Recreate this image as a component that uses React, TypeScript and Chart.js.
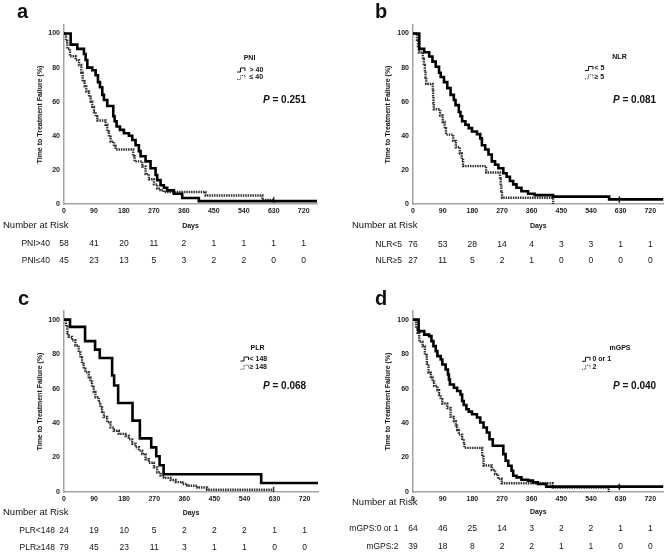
import React, { useEffect, useRef } from "react";
import { Chart, registerables } from "chart.js";

Chart.register(...registerables);

type Pt = [number, number];

const FONT = '"Liberation Sans", Arial, sans-serif';

const dayTicks = [0, 90, 180, 270, 360, 450, 540, 630, 720];
const pctTicks = [0, 20, 40, 60, 80, 100];

// ---- a: PNI ----
const pniHigh: Pt[] = [
  [0, 100], [20, 93.5], [40, 91], [60, 88], [65, 84.5], [70, 80], [85, 78.5], [95, 75.5],
  [102, 71.5], [108, 68.5], [115, 64], [120, 61], [130, 57.5], [148, 51.5], [152, 48.5],
  [158, 45.5], [168, 43.5], [180, 41.5], [195, 40], [205, 37.5], [215, 34.5], [225, 31],
  [230, 28], [245, 25], [260, 21], [275, 17], [280, 14], [290, 11], [300, 9.5], [310, 8],
  [330, 6], [355, 3.5], [405, 1.7], [760, 1.7],
];
const pniLow: Pt[] = [
  [0, 100], [6, 95.6], [10, 91.1], [18, 86.7], [35, 84.4], [45, 81.5], [52, 77], [56, 72],
  [62, 69], [67, 66], [75, 63], [80, 60], [85, 57], [90, 54], [95, 51.5], [100, 49],
  [125, 46.5], [130, 42.5], [135, 39.5], [140, 36.5], [150, 34], [155, 32], [208, 28],
  [212, 25], [235, 22], [245, 17.5], [255, 14.5], [270, 11.5], [280, 9], [290, 8],
  [300, 7], [425, 5], [596, 2.4], [630, 2.4],
];
const pniHighCensor: Pt[] = [];
const pniLowCensor: Pt[] = [[630, 2.4]];
const pniHighRisk = [58, 41, 20, 11, 2, 1, 1, 1, 1];
const pniLowRisk = [45, 23, 13, 5, 3, 2, 2, 0, 0];

// ---- b: NLR ----
const nlrLow: Pt[] = [
  [0, 100], [19, 91], [34, 89], [49, 86.5], [59, 83.5], [69, 80.5], [79, 77], [84, 74.5],
  [94, 71.5], [104, 68], [114, 64], [124, 61], [129, 58], [139, 54], [144, 51.5],
  [149, 48.5], [159, 46.5], [169, 44.5], [179, 42.5], [194, 41], [204, 38.5], [209, 34.5],
  [219, 32], [229, 29], [239, 25], [249, 23], [259, 21], [274, 18], [284, 16],
  [294, 13.5], [304, 11.5], [314, 9.5], [329, 7.5], [349, 6], [369, 5.2], [425, 4.3],
  [595, 2.7], [760, 2.7],
];
const nlrHigh: Pt[] = [
  [0, 100], [12, 96.3], [15, 92.6], [18, 88.9], [30, 85.2], [33, 81.5], [36, 77.8],
  [38, 74.1], [40, 70.4], [60, 66.7], [61, 63], [62, 59.3], [63, 55.6], [82, 51.9],
  [90, 48.1], [96, 44.4], [100, 40.7], [122, 37], [130, 33.3], [142, 29.6], [148, 25.9],
  [152, 22.2], [222, 18.5], [264, 14.8], [266, 11.1], [268, 7.4], [270, 3.7], [425, 0],
];
const nlrLowCensor: Pt[] = [[626, 2.7]];
const nlrHighCensor: Pt[] = [];
const nlrLowRisk = [76, 53, 28, 14, 4, 3, 3, 1, 1];
const nlrHighRisk = [27, 11, 5, 2, 1, 0, 0, 0, 0];

// ---- c: PLR ----
const plrLow: Pt[] = [
  [0, 100], [18, 95.8], [63, 87.5], [93, 82.6], [107, 77.7], [144, 67.6], [150, 61.8],
  [162, 51.6], [205, 41.4], [227, 31.1], [261, 25.9], [276, 20.7], [286, 15.5],
  [298, 10.3], [590, 5.2], [760, 5.2],
];
const plrHigh: Pt[] = [
  [0, 100], [6, 96], [10, 92], [14, 90], [24, 88], [34, 85], [44, 81], [49, 78],
  [54, 74.5], [59, 71.5], [64, 69.5], [74, 66.5], [79, 64], [84, 61], [89, 58], [94, 55],
  [104, 52], [109, 49], [114, 46.5], [119, 43.5], [129, 40.5], [139, 37.5], [149, 35.5],
  [164, 33.7], [184, 32.5], [194, 30.5], [204, 28], [214, 26], [224, 24], [234, 22],
  [244, 19], [254, 17], [269, 14.3], [279, 11.4], [289, 9.5], [299, 8.2], [319, 7],
  [334, 5.7], [354, 4.6], [369, 3.6], [399, 2.6], [428, 1.3], [627, 1.3],
];
const plrLowCensor: Pt[] = [];
const plrHighCensor: Pt[] = [[627, 1.3]];
const plrLowRisk = [24, 19, 10, 5, 2, 2, 2, 1, 1];
const plrHighRisk = [79, 45, 23, 11, 3, 1, 1, 0, 0];

// ---- d: mGPS ----
const gpsLow: Pt[] = [
  [0, 100], [17, 93.3], [34, 91.3], [49, 90.4], [56, 87.5], [62, 84.6], [69, 81.7],
  [74, 78.8], [84, 76.9], [89, 74], [99, 71.1], [106, 68.2], [109, 65.3], [112, 62.4],
  [124, 60.5], [134, 58.6], [144, 56.6], [149, 52.8], [154, 50.5], [162, 48], [169, 46.6],
  [179, 45.1], [194, 43.2], [204, 40.3], [214, 37.4], [224, 34.5], [232, 30.6],
  [242, 26.8], [274, 22], [281, 18.1], [289, 15.2], [299, 12.3], [304, 9.4], [314, 8.5],
  [329, 7.1], [349, 6.6], [364, 5.6], [379, 4.6], [404, 3.1], [760, 3.1],
];
const gpsHigh: Pt[] = [
  [0, 100], [9, 94.9], [14, 92.3], [19, 87.2], [29, 84.6], [36, 79.5], [42, 74.4],
  [47, 69.2], [54, 66.7], [59, 64.1], [64, 61.5], [74, 59], [79, 56.4], [84, 53.8],
  [89, 51.3], [104, 48.7], [114, 43.6], [124, 41], [130, 38.5], [134, 35.9], [139, 33.3],
  [149, 30.8], [154, 28.2], [156, 25.6], [210, 20.5], [214, 15.4], [239, 12.8],
  [249, 10.3], [258, 7.7], [269, 5.1], [424, 2.6], [594, 0],
];
const gpsLowCensor: Pt[] = [[626, 3.1]];
const gpsHighCensor: Pt[] = [];
const gpsLowRisk = [64, 46, 25, 14, 3, 2, 2, 1, 1];
const gpsHighRisk = [39, 18, 8, 2, 2, 1, 1, 0, 0];

interface PanelSpec {
  letter: string;
  factor: string;
  groups: [string, string];
  riskLabels: [string, string];
  risk: [number[], number[]];
  curves: [Pt[], Pt[]];
  censors: [Pt[], Pt[]];
  p: string;
}

interface Frame {
  left: number; top: number; width: number; height: number;
  area: { l: number; r: number; t: number; b: number };
  letter: [number, number];
  legendTitle: [number, number];
  iconX: number; labelX: number;
  legendRows: [number, number];
  pPos: [number, number];
  yTitleX: number;
  daysY: number;
  nar: [number, number];
  riskRight: number;
  riskRows: [number, number];
}

const panels: PanelSpec[] = [
  {
    letter: "a", factor: "PNI", groups: ["> 40", "\u2264 40"],
    riskLabels: ["PNI>40", "PNI\u226440"], risk: [pniHighRisk, pniLowRisk],
    curves: [pniHigh, pniLow], censors: [pniHighCensor, pniLowCensor], p: "0.251",
  },
  {
    letter: "b", factor: "NLR", groups: ["< 5", "\u2265 5"],
    riskLabels: ["NLR<5", "NLR\u22655"], risk: [nlrLowRisk, nlrHighRisk],
    curves: [nlrLow, nlrHigh], censors: [nlrLowCensor, nlrHighCensor], p: "0.081",
  },
  {
    letter: "c", factor: "PLR", groups: ["< 148", "\u2265 148"],
    riskLabels: ["PLR<148", "PLR\u2265148"], risk: [plrLowRisk, plrHighRisk],
    curves: [plrLow, plrHigh], censors: [plrLowCensor, plrHighCensor], p: "0.068",
  },
  {
    letter: "d", factor: "mGPS", groups: ["0 or 1", "2"],
    riskLabels: ["mGPS:0 or 1", "mGPS:2"], risk: [gpsLowRisk, gpsHighRisk],
    curves: [gpsLow, gpsHigh], censors: [gpsLowCensor, gpsHighCensor], p: "0.040",
  },
];

const frames: Frame[] = [
  {
    left: 0, top: 0, width: 335, height: 277, area: { l: 64, r: 317, t: 25, b: 204 },
    letter: [17, 18], legendTitle: [249.5, 58.3], iconX: 237, labelX: 249.5,
    legendRows: [70, 77.5], pPos: [263, 100], yTitleX: 40, daysY: 226, nar: [3, 225],
    riskRight: 50, riskRows: [243.5, 261],
  },
  {
    left: 335, top: 0, width: 334, height: 277, area: { l: 78, r: 332, t: 25, b: 204 },
    letter: [40, 18], legendTitle: [284.5, 57], iconX: 250, labelX: 259.5,
    legendRows: [68.5, 76.7], pPos: [278, 100], yTitleX: 53, daysY: 226, nar: [17, 225],
    riskRight: 67, riskRows: [245, 261],
  },
  {
    left: 0, top: 277, width: 335, height: 277, area: { l: 64, r: 318, t: 34, b: 215 },
    letter: [18, 28], legendTitle: [257.5, 71.3], iconX: 240.5, labelX: 249.5,
    legendRows: [82, 90.3], pPos: [263, 109.7], yTitleX: 40, daysY: 236, nar: [3, 235],
    riskRight: 55, riskRows: [254, 271],
  },
  {
    left: 335, top: 277, width: 334, height: 277, area: { l: 78, r: 332, t: 34, b: 215 },
    letter: [40, 28], legendTitle: [285, 71.3], iconX: 247, labelX: 257.5,
    legendRows: [82.3, 90.3], pPos: [278, 109.7], yTitleX: 53, daysY: 235, nar: [17, 225],
    riskRight: 63.5, riskRows: [252, 270],
  },
];

const Y_AXIS_W = 30;
const X_AXIS_H = 20;
const AXIS_COLOR = "#a3a3a3";
const TEXT = "#111";

const toXY = (pts: Pt[]) => pts.map(([x, y]) => ({ x, y }));

function drawStepIcon(ctx: CanvasRenderingContext2D, x: number, y: number, dotted: boolean) {
  ctx.save();
  ctx.beginPath();
  ctx.moveTo(x, y + 2);
  ctx.lineTo(x + 3.5, y + 2);
  ctx.lineTo(x + 3.5, y - 2);
  ctx.lineTo(x + 8, y - 2);
  ctx.lineTo(x + 8, y + 1);
  ctx.lineWidth = 1;
  ctx.strokeStyle = dotted ? "#444" : "#111";
  if (dotted) ctx.setLineDash([1, 0.8]);
  ctx.stroke();
  ctx.restore();
}

function KMPanel({ spec, frame }: { spec: PanelSpec; frame: Frame }) {
  const ref = useRef<HTMLCanvasElement | null>(null);

  useEffect(() => {
    const canvas = ref.current;
    if (!canvas) return;
    const f = frame;

    const annotate = {
      id: "kmAnnotations",
      afterDraw(chart: Chart) {
        const ctx = chart.ctx;
        const xs = chart.scales.x;
        const area = chart.chartArea;
        ctx.save();
        ctx.fillStyle = TEXT;

        // panel letter
        ctx.font = `bold 20px ${FONT}`;
        ctx.textAlign = "left";
        ctx.textBaseline = "alphabetic";
        ctx.fillText(spec.letter, f.letter[0], f.letter[1]);

        // y-axis title
        ctx.save();
        ctx.translate(f.yTitleX, (area.top + area.bottom) / 2);
        ctx.rotate(-Math.PI / 2);
        ctx.font = `bold 7px ${FONT}`;
        ctx.textAlign = "center";
        ctx.textBaseline = "middle";
        ctx.fillText("Time to Treatment Failure (%)", 0, 0);
        ctx.restore();

        // x-axis title
        ctx.font = `bold 7px ${FONT}`;
        ctx.textAlign = "center";
        ctx.textBaseline = "middle";
        ctx.fillText("Days", (area.left + area.right) / 2, f.daysY);

        // legend
        ctx.fillText(spec.factor, f.legendTitle[0], f.legendTitle[1]);
        ctx.textAlign = "left";
        spec.groups.forEach((g, i) => {
          const y = f.legendRows[i];
          drawStepIcon(ctx, f.iconX, y, i === 1);
          ctx.fillStyle = TEXT;
          ctx.fillText(g, f.labelX, y);
        });

        // log-rank p value
        ctx.textBaseline = "middle";
        ctx.font = `italic bold 10px ${FONT}`;
        ctx.fillText("P", f.pPos[0], f.pPos[1]);
        const pw = ctx.measureText("P").width;
        ctx.font = `bold 10px ${FONT}`;
        ctx.fillText(" = " + spec.p, f.pPos[0] + pw, f.pPos[1]);

        // number at risk table
        ctx.font = `9.5px ${FONT}`;
        ctx.textAlign = "left";
        ctx.fillText("Number at Risk", f.nar[0], f.nar[1]);
        ctx.font = `8.5px ${FONT}`;
        spec.riskLabels.forEach((lab, i) => {
          const y = f.riskRows[i];
          ctx.textAlign = "right";
          ctx.fillText(lab, f.riskRight, y);
          ctx.textAlign = "center";
          spec.risk[i].forEach((n, j) => {
            ctx.fillText(String(n), xs.getPixelForValue(dayTicks[j]), y);
          });
        });
        ctx.restore();
      },
    };

    const tickFont = { family: FONT, size: 7, weight: "bold" as const };

    const chart = new Chart(canvas, {
      type: "line",
      data: {
        datasets: [
          {
            data: toXY(spec.curves[0]),
            borderColor: "#000",
            borderWidth: 2.6,
            stepped: "before",
            pointRadius: 0,
            fill: false,
          },
          {
            data: toXY(spec.curves[1]),
            borderColor: "#333",
            borderWidth: 2.4,
            borderDash: [1.5, 0.9],
            stepped: "before",
            pointRadius: 0,
            fill: false,
          },
          {
            data: toXY(spec.censors[0]),
            showLine: false,
            pointStyle: "line",
            rotation: 90,
            pointRadius: 3,
            pointBorderWidth: 1.5,
            pointBorderColor: "#000",
          },
          {
            data: toXY(spec.censors[1]),
            showLine: false,
            pointStyle: "line",
            rotation: 90,
            pointRadius: 3,
            pointBorderWidth: 1.5,
            pointBorderColor: "#333",
          },
        ],
      },
      options: {
        responsive: false,
        animation: false,
        events: [],
        layout: {
          padding: {
            left: f.area.l - Y_AXIS_W,
            right: f.width - f.area.r,
            top: f.area.t,
            bottom: f.height - f.area.b - X_AXIS_H,
          },
        },
        plugins: { legend: { display: false }, tooltip: { enabled: false } },
        scales: {
          x: {
            type: "linear",
            min: 0,
            max: 760,
            afterBuildTicks: (s: any) => {
              s.ticks = dayTicks.map((v) => ({ value: v }));
            },
            afterFit: (s: any) => {
              s.height = X_AXIS_H;
            },
            grid: { display: false, drawTicks: false },
            border: { display: true, color: AXIS_COLOR, width: 1.5 },
            ticks: { font: tickFont, color: "#222", padding: 3, autoSkip: false, maxRotation: 0 },
          },
          y: {
            type: "linear",
            min: 0,
            max: 105,
            afterBuildTicks: (s: any) => {
              s.ticks = pctTicks.map((v) => ({ value: v }));
            },
            afterFit: (s: any) => {
              s.width = Y_AXIS_W;
            },
            grid: { display: false, drawTicks: false },
            border: { display: true, color: AXIS_COLOR, width: 1.5 },
            ticks: { font: tickFont, color: "#222", padding: 4 },
          },
        },
      },
      plugins: [annotate],
    } as any);

    return () => chart.destroy();
  }, [spec, frame]);

  return (
    <canvas
      ref={ref}
      width={frame.width}
      height={frame.height}
      style={{
        position: "absolute",
        left: frame.left,
        top: frame.top,
        width: frame.width,
        height: frame.height,
      }}
    />
  );
}

export default function App() {
  return (
    <div
      style={{
        position: "absolute",
        left: 0,
        top: 0,
        width: 669,
        height: 554,
        background: "#fff",
        overflow: "hidden",
      }}
    >
      {panels.map((p, i) => (
        <KMPanel key={p.letter} spec={p} frame={frames[i]} />
      ))}
    </div>
  );
}
